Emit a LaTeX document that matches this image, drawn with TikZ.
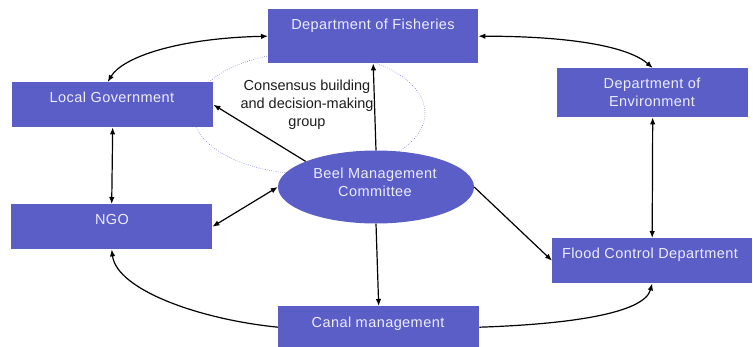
\documentclass[tikz,border=0pt]{standalone}
\usepackage{fontspec}
\setmainfont{Liberation Sans}
\newfontfamily\boxfont[LetterSpace=3]{Liberation Sans}
\usetikzlibrary{arrows.meta,shapes.geometric}
\definecolor{boxblue}{RGB}{92,94,199}
\definecolor{boxtext}{RGB}{236,236,255}
\definecolor{dotblue}{RGB}{110,112,210}
\definecolor{labeltext}{RGB}{28,28,28}
\begin{document}
\begin{tikzpicture}[x=1pt,y=-1pt,
  box/.style={rectangle,fill=boxblue,draw=none,inner sep=0pt,anchor=north west},
  boxlabel/.style={inner sep=0pt,anchor=base,text=boxtext,align=center,
    font={\boxfont\fontsize{14.5}{18}\selectfont}},
  conn/.style={line width=1.2pt,black},
  tip/.style={-{Latex[length=7pt,width=5.5pt]}},
  tips/.style={{Latex[length=7pt,width=5.5pt]}-{Latex[length=7pt,width=5.5pt]}}
]
\useasboundingbox (0,0) rectangle (753,347);
% dotted consensus ellipse
\draw[dotblue,line width=0.6pt,dash pattern=on 0.6pt off 1.6pt] (309,113) ellipse [x radius=116pt,y radius=61pt];
% boxes
\node[box,minimum width=210pt,minimum height=54pt] (fish) at (268,9) {};
\node[box,minimum width=201pt,minimum height=45pt] (lg) at (12,82) {};
\node[box,minimum width=191pt,minimum height=49pt] (env) at (557,68) {};
\node[box,minimum width=201pt,minimum height=45pt] (ngo) at (11,204) {};
\node[box,minimum width=200pt,minimum height=45pt] (flood) at (552,238) {};
\node[box,minimum width=201pt,minimum height=42pt] (canal) at (278,306) {};
\node[ellipse,fill=boxblue,draw=none,inner sep=0pt,minimum width=196pt,minimum height=73pt] (beel) at (376,187) {};
% connectors
\draw[conn,tips] (fish.west) .. controls +(-90,2) and +(15,-25) .. ([xshift=-5pt]lg.north);
\draw[conn,tips] (fish.east) .. controls +(90,0) and +(-25,-22) .. (env.north);
\draw[conn,tips] (lg.south) -- (ngo.north);
\draw[conn,tips] (env.south) -- (flood.north);
\draw[conn,tip] (beel.160) -- (lg.east);
\draw[conn,tip] (beel.north) -- (fish.south);
\draw[conn,tips] (ngo.east) -- (beel.west);
\draw[conn,tip] (beel.east) -- (flood.west);
\draw[conn,tip] (beel.south) -- (canal.north);
\draw[conn,tip] (canal.west) .. controls +(-80,-8) and +(5,40) .. (ngo.south);
\draw[conn,tip] (canal.east) .. controls +(90,-3) and +(-8,30) .. (flood.south);
% labels
\node[inner sep=0pt,anchor=base,align=center,text=labeltext,font={\fontsize{14.5}{18}\selectfont}] (cons) at (307,127) {Consensus building\\and decision-making\\group};
\node[boxlabel] (fishT) at (373,30) {Department of Fisheries};
\node[boxlabel] (lgT) at (112,103) {Local Government};
\node[boxlabel] (envT) at (652,107) {Department of\\Environment};
\node[boxlabel] (ngoT) at (112,225) {NGO};
\node[boxlabel] (floodT) at (650,259) {Flood Control Department};
\node[boxlabel] (canalT) at (378,328) {Canal management};
\node[boxlabel] (beelT) at (375,197) {Beel Management\\Committee};
\end{tikzpicture}
\end{document}
